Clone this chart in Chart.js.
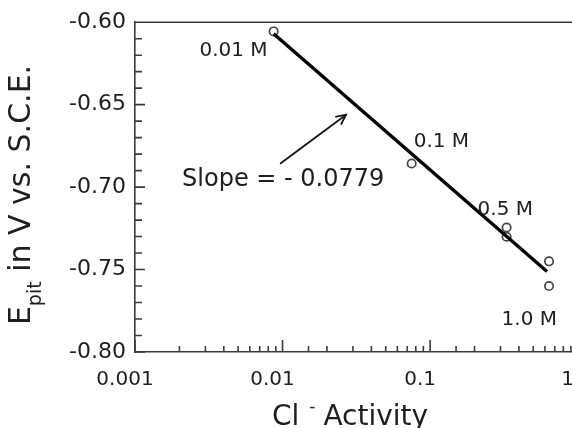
<!DOCTYPE html>
<html lang="en">
<head>
<meta charset="UTF-8">
<title>Epit vs Cl- activity</title>
<style>
  html, body { margin: 0; padding: 0; background: #fff; overflow: hidden; }
  #wrap { width: 600px; height: 428px; }
</style>
</head>
<body>
<div id="wrap"><canvas id="chart" width="600" height="428"></canvas></div>
<script src="https://cdn.jsdelivr.net/npm/chart.js"></script>
<script>
// measured pitting potentials (V vs SCE) against Cl- activity
const activity = [0.0087, 0.075, 0.33, 0.33, 0.64, 0.64];
const epit = [-0.6056, -0.6857, -0.7245, -0.7301, -0.745, -0.760];

// end points of the fitted line
const fitActivity = [0.0087, 0.62];
const fitEpit = [-0.607, -0.7512];

// concentration labels and the point each one belongs to
const concLabels = ['0.01 M', '0.1 M', '0.5 M', '1.0 M'];
const concPoint = [0, 1, 2, 5];

const xTickLabels = [0.001, 0.01, 0.1, 1];
const slopeText = 'Slope = - 0.0779';

const FONT = '"DejaVu Sans", sans-serif';
const INK = '#1e1e1e';
const AXIS = '#3a3a3a';

const isDecade = v => Math.abs(Math.log10(v) - Math.round(Math.log10(v))) < 1e-6;

// inward tick marks, top frame line, labels, arrow and axis titles
const decor = {
  id: 'decor',
  afterDraw(chart) {
    const { ctx, chartArea: a, scales: { x, y } } = chart;
    ctx.save();
    ctx.strokeStyle = AXIS;
    ctx.lineWidth = 1.6;
    ctx.beginPath();
    ctx.moveTo(a.left, a.top);
    ctx.lineTo(a.right + 2, a.top);
    y.ticks.forEach(t => {
      const py = y.getPixelForValue(t.value);
      const len = Math.round(t.value * 100) % 5 === 0 ? 10 : 7;
      ctx.moveTo(a.left, py);
      ctx.lineTo(a.left + len, py);
    });
    x.ticks.forEach(t => {
      const px = x.getPixelForValue(t.value);
      const len = isDecade(t.value) ? 12 : 6;
      ctx.moveTo(px, a.bottom);
      ctx.lineTo(px, a.bottom - len);
    });
    ctx.stroke();

    // concentration labels
    const pts = chart.getDatasetMeta(1).data;
    const offs = [[-6, 19, 'right'], [2, -22, 'left'], [-29, -18, 'left'], [8, 34, 'right']];
    ctx.fillStyle = INK;
    ctx.font = '20px ' + FONT;
    ctx.textBaseline = 'middle';
    concLabels.forEach((txt, i) => {
      const p = pts[concPoint[i]];
      ctx.textAlign = offs[i][2];
      ctx.fillText(txt, p.x + offs[i][0], p.y + offs[i][1]);
    });

    // arrow pointing at the fitted line + slope text
    const f = chart.getDatasetMeta(0).data;
    const t = 0.265;
    const lx = f[0].x + (f[1].x - f[0].x) * t;
    const ly = f[0].y + (f[1].y - f[0].y) * t;
    const tip = { x: lx, y: ly + 18 };
    const tail = { x: tip.x - 66, y: tip.y + 49 };
    ctx.strokeStyle = '#111';
    ctx.lineWidth = 1.7;
    ctx.beginPath();
    ctx.moveTo(tail.x, tail.y);
    ctx.lineTo(tip.x, tip.y);
    ctx.stroke();
    const ang = Math.atan2(tip.y - tail.y, tip.x - tail.x);
    ctx.beginPath();
    ctx.moveTo(tip.x - 11 * Math.cos(ang - 0.45), tip.y - 11 * Math.sin(ang - 0.45));
    ctx.lineTo(tip.x, tip.y);
    ctx.lineTo(tip.x - 11 * Math.cos(ang + 0.45), tip.y - 11 * Math.sin(ang + 0.45));
    ctx.stroke();
    ctx.font = '24px ' + FONT;
    ctx.textAlign = 'left';
    ctx.textBaseline = 'alphabetic';
    ctx.fillText(slopeText, tail.x - 98, tail.y + 22);

    // x axis title: Cl⁻ Activity
    const big = '28px ' + FONT, small = '17px ' + FONT;
    ctx.font = big;
    const wCl = ctx.measureText('Cl').width;
    const wAct = ctx.measureText('Activity').width;
    ctx.font = small;
    const wMinus = ctx.measureText('-').width;
    const total = wCl + 10 + wMinus + 8 + wAct;
    let cx = 350 - total / 2;
    const by = 425;
    ctx.font = big;
    ctx.fillText('Cl', cx, by);
    cx += wCl + 10;
    ctx.font = small;
    ctx.fillText('-', cx, by - 13);
    cx += wMinus + 8;
    ctx.font = big;
    ctx.fillText('Activity', cx, by);

    // y axis title: E_pit in V vs. S.C.E.
    const yBig = '30px ' + FONT, ySub = '19px ' + FONT;
    ctx.translate(30, 195);
    ctx.rotate(-Math.PI / 2);
    ctx.font = yBig;
    const wE = ctx.measureText('E').width;
    const rest = ' in V vs. S.C.E.';
    const wRest = ctx.measureText(rest).width;
    ctx.font = ySub;
    const wPit = ctx.measureText('pit').width;
    let tx = -(wE + wPit + wRest) / 2;
    ctx.font = yBig;
    ctx.fillText('E', tx, 0);
    tx += wE;
    ctx.font = ySub;
    ctx.fillText('pit', tx, 11);
    tx += wPit;
    ctx.font = yBig;
    ctx.fillText(rest, tx, 0);
    ctx.restore();
  }
};

new Chart(document.getElementById('chart'), {
  type: 'scatter',
  data: {
    datasets: [
      {
        label: 'fit',
        data: fitActivity.map((v, i) => ({ x: v, y: fitEpit[i] })),
        showLine: true,
        borderColor: '#000',
        borderWidth: 3.4,
        pointRadius: 0
      },
      {
        label: 'Epit',
        data: activity.map((v, i) => ({ x: v, y: epit[i] })),
        pointRadius: 4.2,
        borderColor: '#444',
        borderWidth: 1.7,
        backgroundColor: 'rgba(255,255,255,0)'
      }
    ]
  },
  options: {
    responsive: false,
    animation: false,
    devicePixelRatio: 1,
    layout: { padding: { top: 20, right: 21, left: 0, bottom: 0 } },
    plugins: { legend: { display: false }, tooltip: { enabled: false } },
    scales: {
      x: {
        type: 'logarithmic',
        min: 0.001,
        max: 1,
        afterFit: s => { s.height = 76; },
        border: { color: AXIS, width: 1.6 },
        grid: { display: true, drawOnChartArea: false, drawTicks: false },
        ticks: {
          autoSkip: false,
          maxRotation: 0,
          padding: 16,
          labelOffset: -10,
          color: INK,
          font: { family: FONT, size: 20 },
          callback: v => {
            const hit = xTickLabels.find(t => Math.abs(t - v) / t < 1e-6);
            return hit === undefined ? '' : String(hit);
          }
        }
      },
      y: {
        min: -0.8,
        max: -0.6,
        afterFit: s => { s.width = 135; },
        border: { color: AXIS, width: 1.6 },
        grid: { display: true, drawOnChartArea: false, drawTicks: false },
        ticks: {
          stepSize: 0.01,
          autoSkip: false,
          padding: 9,
          color: INK,
          font: { family: FONT, size: 22 },
          callback: v => (Math.round(v * 100) % 5 === 0 ? v.toFixed(2) : '')
        }
      }
    }
  },
  plugins: [decor]
});
</script>
</body>
</html>
